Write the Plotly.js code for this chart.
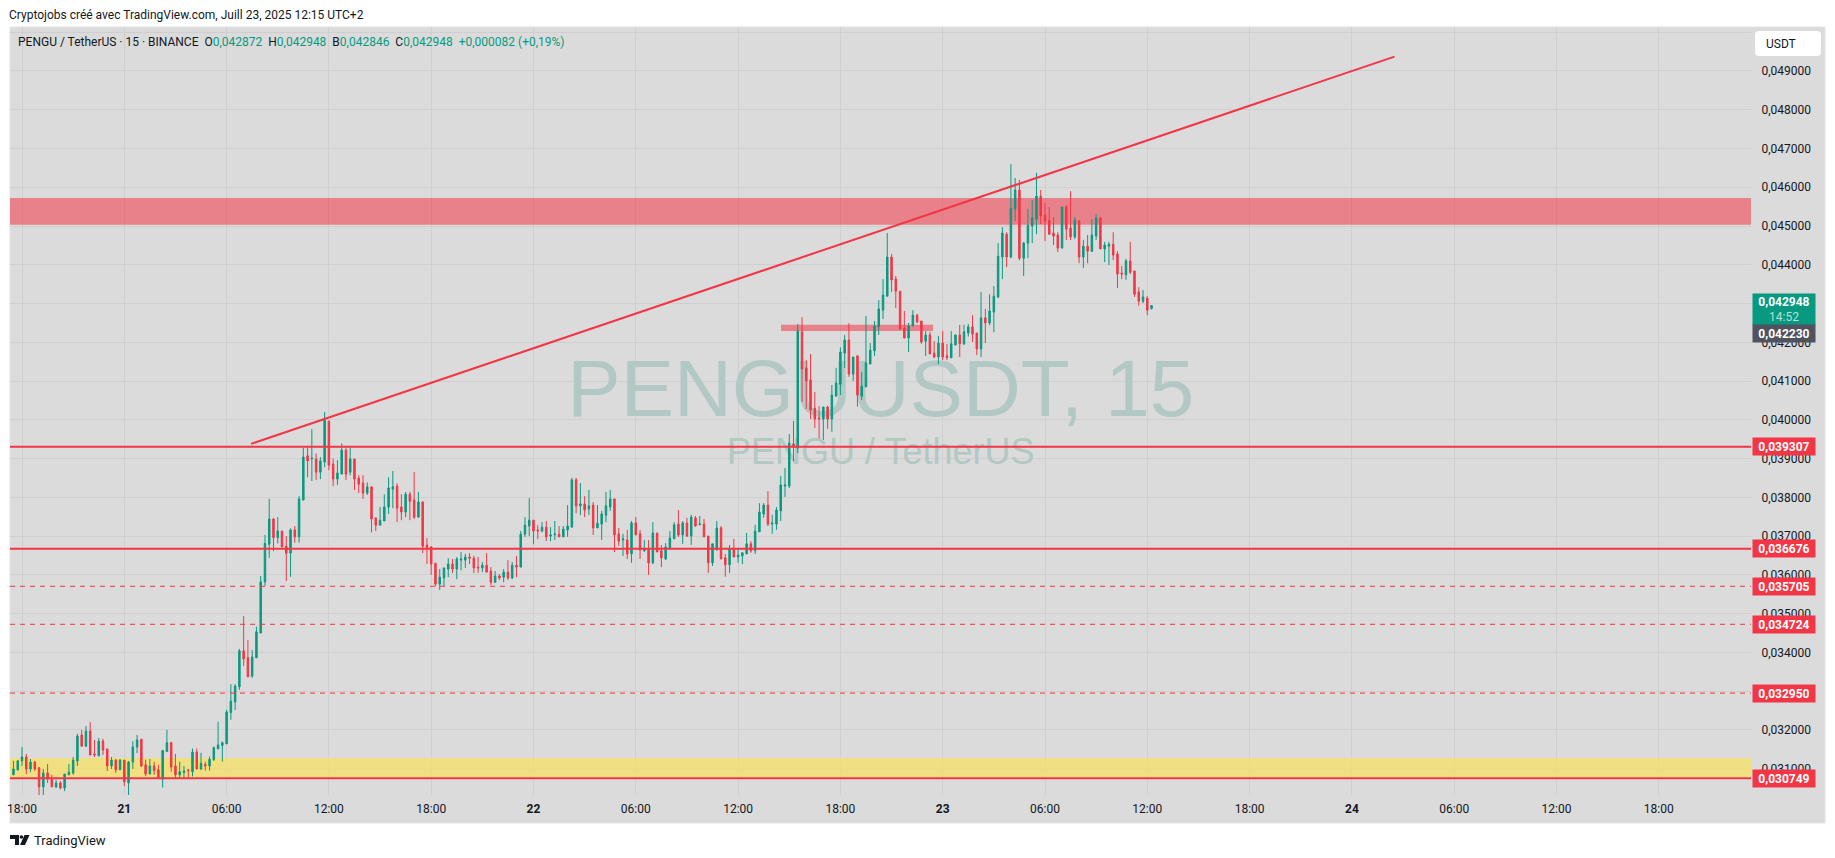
<!DOCTYPE html>
<html>
<head>
<meta charset="utf-8">
<script src="https://cdn.plot.ly/plotly-3.0.1.min.js"></script>
<style>html,body{margin:0;padding:0;background:#fff;overflow:hidden}#chart{width:1835px;height:858px}</style>
</head>
<body>
<div id="chart"></div>
<script>
// 15-minute candles, first one at 20 Jul 2025 17:30
const firstCandle = '2025-07-20T17:30:00';
const opens = [
0.03084,0.03097,0.03120,0.03130,0.03099,0.03117,0.03102,0.03053,0.03089,0.03073,
0.03053,0.03063,0.03050,0.03084,0.03089,0.03120,0.03187,0.03158,0.03197,0.03138,
0.03133,0.03171,0.03151,0.03107,0.03122,0.03097,0.03122,0.03063,0.03117,0.03156,
0.03176,0.03110,0.03086,0.03107,0.03097,0.03073,0.03144,0.03167,0.03107,0.03084,
0.03090,0.03097,0.03092,0.03143,0.03099,0.03111,0.03107,0.03123,0.03151,0.03160,
0.03164,0.03245,0.03272,0.03311,0.03404,0.03386,0.03339,0.03386,0.03450,0.03582,
0.03679,0.03744,0.03696,0.03713,0.03674,0.03656,0.03716,0.03698,0.03793,0.03907,
0.03899,0.03899,0.03865,0.03891,0.03997,0.03886,0.03847,0.03860,0.03922,0.03865,
0.03899,0.03850,0.03837,0.03811,0.03827,0.03747,0.03728,0.03739,0.03775,0.03821,
0.03829,0.03775,0.03762,0.03808,0.03793,0.03749,0.03788,0.03677,0.03672,0.03630,
0.03576,0.03592,0.03615,0.03628,0.03615,0.03638,0.03638,0.03646,0.03643,0.03620,
0.03618,0.03625,0.03610,0.03581,0.03597,0.03594,0.03607,0.03592,0.03625,0.03620,
0.03705,0.03726,0.03741,0.03716,0.03713,0.03723,0.03700,0.03703,0.03705,0.03698,
0.03716,0.03723,0.03845,0.03778,0.03783,0.03770,0.03780,0.03721,0.03731,0.03754,
0.03775,0.03796,0.03706,0.03690,0.03690,0.03654,0.03734,0.03706,0.03662,0.03667,
0.03631,0.03708,0.03662,0.03641,0.03669,0.03693,0.03731,0.03703,0.03734,0.03700,
0.03747,0.03729,0.03731,0.03700,0.03631,0.03664,0.03721,0.03644,0.03626,0.03667,
0.03646,0.03649,0.03654,0.03680,0.03662,0.03711,0.03757,0.03780,0.03731,0.03731,
0.03765,0.03829,0.03829,0.03938,0.03927,0.04227,0.04134,0.04103,0.04030,0.04005,
0.04002,0.04033,0.04002,0.04061,0.04092,0.04172,0.04206,0.04118,0.04165,0.04061,
0.04085,0.04144,0.04178,0.04240,0.04283,0.04319,0.04420,0.04363,0.04332,0.04237,
0.04211,0.04242,0.04270,0.04255,0.04203,0.04219,0.04172,0.04162,0.04198,0.04165,
0.04160,0.04193,0.04219,0.04196,0.04224,0.04240,0.04224,0.04183,0.04263,0.04250,
0.04278,0.04317,0.04420,0.04479,0.04420,0.04544,0.04593,0.04417,0.04456,0.04500,
0.04518,0.04577,0.04528,0.04515,0.04482,0.04477,0.04443,0.04549,0.04495,0.04472,
0.04513,0.04420,0.04448,0.04435,0.04474,0.04521,0.04441,0.04448,0.04453,0.04428,
0.04379,0.04374,0.04410,0.04384,0.04330,0.04306,0.04314,0.042872];
const highs = [
0.03120,0.03122,0.03156,0.03138,0.03125,0.03120,0.03104,0.03099,0.03112,0.03084,
0.03071,0.03068,0.03086,0.03112,0.03130,0.03190,0.03200,0.03210,0.03220,0.03174,
0.03179,0.03177,0.03151,0.03130,0.03125,0.03125,0.03122,0.03120,0.03171,0.03187,
0.03176,0.03123,0.03125,0.03118,0.03110,0.03148,0.03200,0.03169,0.03138,0.03118,
0.03107,0.03098,0.03152,0.03152,0.03141,0.03118,0.03131,0.03157,0.03221,0.03170,
0.03252,0.03318,0.03318,0.03409,0.03494,0.03432,0.03406,0.03466,0.03597,0.03703,
0.03796,0.03747,0.03749,0.03713,0.03700,0.03720,0.03726,0.03803,0.03928,0.03928,
0.03976,0.03913,0.03904,0.04020,0.03997,0.03900,0.03896,0.03939,0.03928,0.03928,
0.03899,0.03857,0.03857,0.03839,0.03827,0.03747,0.03775,0.03808,0.03852,0.03868,
0.03836,0.03808,0.03814,0.03814,0.03865,0.03814,0.03790,0.03695,0.03674,0.03630,
0.03615,0.03618,0.03643,0.03641,0.03646,0.03659,0.03654,0.03656,0.03649,0.03646,
0.03633,0.03656,0.03620,0.03610,0.03602,0.03615,0.03638,0.03633,0.03649,0.03713,
0.03749,0.03798,0.03741,0.03728,0.03736,0.03739,0.03723,0.03739,0.03726,0.03726,
0.03780,0.03850,0.03850,0.03837,0.03803,0.03819,0.03788,0.03780,0.03765,0.03814,
0.03819,0.03796,0.03721,0.03706,0.03716,0.03739,0.03749,0.03716,0.03690,0.03690,
0.03736,0.03708,0.03677,0.03682,0.03713,0.03736,0.03767,0.03739,0.03747,0.03755,
0.03752,0.03752,0.03744,0.03700,0.03680,0.03739,0.03726,0.03654,0.03677,0.03693,
0.03669,0.03657,0.03708,0.03687,0.03729,0.03785,0.03785,0.03816,0.03755,0.03775,
0.03855,0.03876,0.03963,0.03997,0.04247,0.04265,0.04154,0.04170,0.04072,0.04036,
0.04033,0.04036,0.04090,0.04134,0.04187,0.04219,0.04249,0.04162,0.04165,0.04123,
0.04268,0.04198,0.04255,0.04309,0.04363,0.04482,0.04428,0.04371,0.04332,0.04281,
0.04250,0.04283,0.04273,0.04255,0.04229,0.04227,0.04203,0.04216,0.04229,0.04196,
0.04229,0.04219,0.04245,0.04245,0.04247,0.04270,0.04224,0.04330,0.04286,0.04324,
0.04345,0.04456,0.04497,0.04484,0.04660,0.04624,0.04619,0.04459,0.04544,0.04567,
0.04637,0.04593,0.04559,0.04549,0.04523,0.04484,0.04549,0.04554,0.04590,0.04523,
0.04515,0.04464,0.04477,0.04518,0.04531,0.04523,0.04459,0.04459,0.04484,0.04435,
0.04397,0.04415,0.04459,0.04384,0.04342,0.04335,0.04319,0.042948];
const lows = [
0.03084,0.03095,0.03107,0.03086,0.03091,0.03094,0.03032,0.03029,0.03063,0.03053,
0.03050,0.03047,0.03042,0.03084,0.03084,0.03107,0.03158,0.03156,0.03135,0.03130,
0.03133,0.03135,0.03094,0.03099,0.03089,0.03097,0.03055,0.03032,0.03099,0.03140,
0.03104,0.03081,0.03086,0.03084,0.03075,0.03051,0.03144,0.03092,0.03075,0.03075,
0.03075,0.03075,0.03080,0.03099,0.03097,0.03095,0.03095,0.03120,0.03151,0.03118,
0.03164,0.03226,0.03251,0.03303,0.03365,0.03337,0.03334,0.03386,0.03450,0.03571,
0.03644,0.03661,0.03681,0.03672,0.03584,0.03595,0.03683,0.03683,0.03793,0.03852,
0.03842,0.03845,0.03847,0.03878,0.03870,0.03829,0.03832,0.03860,0.03845,0.03857,
0.03819,0.03811,0.03796,0.03806,0.03710,0.03713,0.03728,0.03739,0.03757,0.03772,
0.03736,0.03741,0.03749,0.03741,0.03744,0.03747,0.03656,0.03628,0.03600,0.03571,
0.03561,0.03571,0.03594,0.03605,0.03589,0.03612,0.03618,0.03628,0.03605,0.03605,
0.03607,0.03607,0.03574,0.03579,0.03587,0.03581,0.03587,0.03589,0.03594,0.03620,
0.03698,0.03700,0.03679,0.03692,0.03710,0.03687,0.03687,0.03690,0.03698,0.03698,
0.03698,0.03723,0.03759,0.03754,0.03749,0.03754,0.03703,0.03721,0.03690,0.03736,
0.03765,0.03659,0.03675,0.03649,0.03641,0.03631,0.03703,0.03641,0.03659,0.03600,
0.03628,0.03659,0.03620,0.03638,0.03669,0.03693,0.03698,0.03680,0.03698,0.03677,
0.03724,0.03729,0.03698,0.03605,0.03623,0.03664,0.03641,0.03595,0.03605,0.03646,
0.03631,0.03628,0.03654,0.03657,0.03654,0.03711,0.03747,0.03726,0.03706,0.03716,
0.03739,0.03801,0.03824,0.03894,0.03914,0.04046,0.04028,0.04002,0.03979,0.03952,
0.03948,0.03977,0.03969,0.04061,0.04064,0.04134,0.04111,0.04100,0.04034,0.04051,
0.04085,0.04144,0.04165,0.04219,0.04260,0.04319,0.04330,0.04288,0.04234,0.04211,
0.04175,0.04242,0.04252,0.04196,0.04165,0.04170,0.04159,0.04144,0.04154,0.04154,
0.04160,0.04193,0.04162,0.04193,0.04215,0.04201,0.04167,0.04162,0.04198,0.04244,
0.04226,0.04314,0.04363,0.04394,0.04417,0.04513,0.04412,0.04371,0.04417,0.04456,
0.04479,0.04505,0.04461,0.04477,0.04451,0.04433,0.04443,0.04464,0.04464,0.04466,
0.04404,0.04392,0.04404,0.04433,0.04464,0.04441,0.04407,0.04399,0.04412,0.04340,
0.04363,0.04361,0.04376,0.04317,0.04294,0.04301,0.04270,0.042846];
const closes = [
0.03099,0.03120,0.03130,0.03099,0.03117,0.03099,0.03053,0.03089,0.03073,0.03053,
0.03063,0.03050,0.03086,0.03091,0.03122,0.03184,0.03158,0.03197,0.03135,0.03135,
0.03171,0.03148,0.03107,0.03122,0.03097,0.03122,0.03066,0.03117,0.03156,0.03174,
0.03107,0.03086,0.03107,0.03095,0.03075,0.03147,0.03167,0.03104,0.03084,0.03092,
0.03094,0.03095,0.03143,0.03099,0.03114,0.03107,0.03124,0.03154,0.03161,0.03167,
0.03246,0.03274,0.03313,0.03404,0.03383,0.03337,0.03388,0.03453,0.03582,0.03681,
0.03744,0.03696,0.03713,0.03672,0.03656,0.03716,0.03698,0.03796,0.03904,0.03894,
0.03901,0.03865,0.03894,0.03999,0.03883,0.03847,0.03863,0.03922,0.03860,0.03899,
0.03847,0.03834,0.03811,0.03827,0.03744,0.03728,0.03741,0.03775,0.03824,0.03827,
0.03772,0.03762,0.03808,0.03790,0.03749,0.03788,0.03674,0.03669,0.03628,0.03576,
0.03594,0.03618,0.03628,0.03615,0.03641,0.03641,0.03646,0.03643,0.03618,0.03618,
0.03625,0.03607,0.03581,0.03597,0.03592,0.03607,0.03592,0.03625,0.03620,0.03705,
0.03728,0.03741,0.03713,0.03713,0.03723,0.03698,0.03703,0.03705,0.03698,0.03718,
0.03726,0.03845,0.03778,0.03783,0.03767,0.03778,0.03721,0.03733,0.03757,0.03778,
0.03796,0.03703,0.03687,0.03693,0.03654,0.03734,0.03703,0.03664,0.03667,0.03631,
0.03708,0.03659,0.03644,0.03672,0.03695,0.03729,0.03703,0.03734,0.03700,0.03749,
0.03726,0.03731,0.03698,0.03631,0.03680,0.03721,0.03641,0.03626,0.03667,0.03646,
0.03651,0.03657,0.03680,0.03662,0.03713,0.03762,0.03780,0.03731,0.03734,0.03767,
0.03832,0.03832,0.03940,0.03930,0.04229,0.04131,0.04100,0.04025,0.04002,0.04002,
0.04033,0.04002,0.04064,0.04095,0.04175,0.04206,0.04118,0.04162,0.04064,0.04087,
0.04147,0.04180,0.04242,0.04286,0.04322,0.04420,0.04361,0.04332,0.04234,0.04211,
0.04242,0.04270,0.04252,0.04201,0.04219,0.04170,0.04162,0.04198,0.04162,0.04160,
0.04196,0.04219,0.04196,0.04227,0.04240,0.04221,0.04183,0.04263,0.04250,0.04281,
0.04319,0.04422,0.04482,0.04420,0.04546,0.04593,0.04417,0.04456,0.04502,0.04521,
0.04577,0.04526,0.04513,0.04479,0.04474,0.04443,0.04549,0.04492,0.04472,0.04515,
0.04420,0.04448,0.04435,0.04477,0.04521,0.04441,0.04451,0.04453,0.04425,0.04376,
0.04376,0.04410,0.04381,0.04324,0.04306,0.04317,0.04283,0.042948];

// axes
const timeRange = ['2025-07-20T17:17:45', '2025-07-24T23:24:30'];
const priceRange = [0.03032, 0.050135];
const timeTicks = ['2025-07-20T18:00','2025-07-21T00:00','2025-07-21T06:00','2025-07-21T12:00','2025-07-21T18:00',
 '2025-07-22T00:00','2025-07-22T06:00','2025-07-22T12:00','2025-07-22T18:00',
 '2025-07-23T00:00','2025-07-23T06:00','2025-07-23T12:00','2025-07-23T18:00',
 '2025-07-24T00:00','2025-07-24T06:00','2025-07-24T12:00','2025-07-24T18:00'];
const timeLabels = ['18:00','<b>21</b>','06:00','12:00','18:00','<b>22</b>','06:00','12:00','18:00','<b>23</b>','06:00','12:00','18:00','<b>24</b>','06:00','12:00','18:00'];
const priceTicks = [0.031,0.032,0.033,0.034,0.035,0.036,0.037,0.038,0.039,0.040,0.041,0.042,0.043,0.044,0.045,0.046,0.047,0.048,0.049,0.050];
const priceLabels = ['0,031000','0,032000','0,033000','0,034000','0,035000','0,036000','0,037000','0,038000','0,039000','0,040000','0,041000','0,042000','0,043000','0,044000','0,045000','0,046000','0,047000','0,048000','0,049000',''];

// drawings
const solidLevels = [0.039307, 0.036676, 0.030749];
const dashedLevels = [0.035705, 0.034724, 0.032950];
const redZone = [0.045035, 0.045724];
const yellowZone = [0.030749, 0.031272];
const smallZoneTimes = ['2025-07-22T14:31', '2025-07-22T23:26'];
const smallZonePrices = [0.04229, 0.04245];
const trendTimes = ['2025-07-21T07:26', '2025-07-24T02:30'];
const trendPrices = [0.03938, 0.04937];
const lastPrice = 0.042948, countdown = '14:52', greyPrice = 0.042230;
const titleText = 'Cryptojobs créé avec TradingView.com, Juill 23, 2025 12:15 UTC+2';
const watermarkMain = 'PENGUUSDT, 15', watermarkSub = 'PENGU / TetherUS';

const UP = '#089981', DOWN = '#F23645';
const times = opens.map((_, i) => {
  const t = new Date(Date.parse(firstCandle + 'Z') + i * 900000);
  return t.toISOString().slice(0, 19);
});
const L = 10, R = 1751, T = 27, B = 795;
const px = x => (x - L) / (R - L);
const py = y => (B - y) / (B - T);
const fmt = v => v.toFixed(6).replace('.', ',');
const FONT = 'Roboto, "Liberation Sans", Arial, sans-serif';

const traces = [
  {type:'scatter', mode:'text', x:['2025-07-22T20:22'], y:[0.040615], text:[watermarkMain], textposition:'middle center',
   textfont:{family:'"Liberation Sans", Arial, sans-serif', size:80, color:'#b2c8c4'}, cliponaxis:false, hoverinfo:'skip', showlegend:false},
  {type:'scatter', mode:'text', x:['2025-07-22T20:22'], y:[0.03908], text:[watermarkSub], textposition:'middle center',
   textfont:{family:'"Liberation Sans", Arial, sans-serif', size:36, color:'#b2c8c4'}, cliponaxis:false, hoverinfo:'skip', showlegend:false},
  {type:'candlestick', x:times, open:opens, high:highs, low:lows, close:closes, xaxis:'x2', yaxis:'y2',
   increasing:{line:{color:UP, width:1}, fillcolor:UP}, decreasing:{line:{color:DOWN, width:1}, fillcolor:DOWN},
   whiskerwidth:0, hoverinfo:'skip', showlegend:false}
];

const hLevel = (v, dash, w) => ({type:'line', layer:'above', xref:'paper', yref:'y', x0:0, x1:1, y0:v, y1:v, line:{color:DOWN, width:w, dash}});
const rpx = (x0, y0, x1, y1, r) => `M${px(x0+r)} ${py(y0)} L${px(x1-r)} ${py(y0)} Q${px(x1)} ${py(y0)} ${px(x1)} ${py(y0+r)} L${px(x1)} ${py(y1-r)} Q${px(x1)} ${py(y1)} ${px(x1-r)} ${py(y1)} L${px(x0+r)} ${py(y1)} Q${px(x0)} ${py(y1)} ${px(x0)} ${py(y1-r)} L${px(x0)} ${py(y0+r)} Q${px(x0)} ${py(y0)} ${px(x0+r)} ${py(y0)} Z`;
const polyPx = pts => 'M' + pts.map(p => px(p[0]) + ' ' + py(p[1])).join(' L') + ' Z';

const shapes = [
  {type:'rect', layer:'below', xref:'paper', yref:'paper', x0:px(10), x1:px(1825), y0:py(823), y1:py(27), fillcolor:'#dbdbdb', line:{color:'#e4e4e4', width:1}},
  {type:'rect', layer:'between', xref:'x', yref:'y', x0:timeRange[0], x1:timeRange[1], y0:redZone[0], y1:redZone[1], fillcolor:'rgba(242,54,69,0.55)', line:{width:0}},
  {type:'rect', layer:'between', xref:'x', yref:'y', x0:timeRange[0], x1:timeRange[1], y0:yellowZone[0], y1:yellowZone[1], fillcolor:'rgba(247,226,100,0.75)', line:{width:0}},
  {type:'rect', layer:'between', xref:'x', yref:'y', x0:smallZoneTimes[0], x1:smallZoneTimes[1], y0:smallZonePrices[0], y1:smallZonePrices[1], fillcolor:'rgba(242,54,69,0.55)', line:{width:0}},
  ...solidLevels.map(v => hLevel(v, 'solid', 2)),
  ...dashedLevels.map(v => hLevel(v, '5px,5px', 1)),
  {type:'line', layer:'above', xref:'x', yref:'y', x0:trendTimes[0], x1:trendTimes[1], y0:trendPrices[0], y1:trendPrices[1], line:{color:DOWN, width:2}},
  {type:'path', layer:'above', xref:'paper', yref:'paper', path:rpx(1755, 31, 1821, 56, 4), fillcolor:'#ffffff', line:{width:0}},
  {type:'path', layer:'above', xref:'paper', yref:'paper', path:polyPx([[10,835],[19,835],[19,845],[15,845],[15,839],[10,839]]), fillcolor:'#131722', line:{width:0}},
  {type:'circle', layer:'above', xref:'paper', yref:'paper', x0:px(19.6), x1:px(23.2), y0:py(838.8), y1:py(835.2), fillcolor:'#131722', line:{width:0}},
  {type:'path', layer:'above', xref:'paper', yref:'paper', path:polyPx([[24.5,835],[29.5,835],[25,845],[20,845]]), fillcolor:'#131722', line:{width:0}}
];

const tag = (v, bg) => ({xref:'paper', yref:'y', x:px(1752), y:v, xanchor:'left', yanchor:'middle', showarrow:false, width:62, height:17, borderpad:0, bgcolor:bg,
  text:'<b>' + fmt(v) + '</b>', font:{family:FONT, size:12, color:'#ffffff'}, align:'center', valign:'middle'});
const g = s => `<span style="color:${UP}">${s}</span>`;
const annotations = [
  {xref:'paper', yref:'paper', x:px(16), y:py(41.5), xanchor:'left', yanchor:'middle', showarrow:false, align:'left', font:{family:FONT, size:12, color:'#131722'},
   text:'PENGU / TetherUS · 15 · BINANCE\u00a0\u00a0O' + g('0,042872') + '\u00a0\u00a0H' + g('0,042948') + '\u00a0\u00a0B' + g('0,042846') + '\u00a0\u00a0C' + g('0,042948') + '\u00a0\u00a0' + g('+0,000082 (+0,19%)')},
  {xref:'paper', yref:'paper', x:px(1764), y:py(44), xanchor:'left', yanchor:'middle', showarrow:false, text:'USDT', font:{family:FONT, size:12, color:'#131722'}},
  {xref:'paper', yref:'paper', x:px(1752), y:py(309.5), xanchor:'left', yanchor:'middle', showarrow:false, width:62, height:31, borderpad:0, bgcolor:UP, align:'center', valign:'middle',
   text:'<b>' + fmt(lastPrice) + '</b><br><span style="color:#b5e0d8">' + countdown + '</span>', font:{family:FONT, size:12, color:'#ffffff'}},
  tag(greyPrice, '#50535e'),
  ...[...solidLevels, ...dashedLevels].map(v => tag(v, DOWN)),
  {xref:'paper', yref:'paper', x:px(32), y:py(840), xanchor:'left', yanchor:'middle', showarrow:false, text:'TradingView', font:{family:FONT, size:13, color:'#131722'}}
];

const layout = {
  width:1835, height:858, margin:{l:L, r:1835-R, t:T, b:858-B, pad:0, autoexpand:false},
  paper_bgcolor:'#ffffff', plot_bgcolor:'rgba(0,0,0,0)', showlegend:false, dragmode:false, hovermode:false,
  boxgap:0.5,
  font:{family:FONT, size:12, color:'#131722'},
  title:{text:titleText, x:9/1835, xanchor:'left', xref:'container', y:1-15/858, yref:'container', yanchor:'middle', pad:{l:0,r:0,t:0,b:0}, font:{family:FONT, size:12, color:'#131722'}},
  xaxis:{type:'date', range:timeRange, tickmode:'array', tickvals:timeTicks, ticktext:timeLabels, showgrid:true, gridcolor:'#cfcfcf', gridwidth:1, zeroline:false, showline:false,
    ticks:'outside', ticklen:3, tickcolor:'rgba(0,0,0,0)', tickangle:0, tickfont:{family:FONT, size:12, color:'#131722'}, rangeslider:{visible:false}, automargin:false},
  yaxis:{type:'linear', side:'right', range:priceRange, tickmode:'array', tickvals:priceTicks, ticktext:priceLabels, showgrid:true, gridcolor:'#cfcfcf', gridwidth:1, zeroline:false, showline:false,
    ticks:'outside', ticklen:7, tickcolor:'rgba(0,0,0,0)', tickfont:{family:FONT, size:12, color:'#131722'}, automargin:false},
  xaxis2:{type:'date', overlaying:'x', range:timeRange, visible:false, rangeslider:{visible:false}, anchor:'y2', showgrid:false},
  yaxis2:{type:'linear', overlaying:'y', range:priceRange, visible:false, side:'right', anchor:'x2', showgrid:false},
  shapes, annotations
};
Plotly.newPlot('chart', traces, layout, {displayModeBar:false, staticPlot:true});
</script>
</body>
</html>
